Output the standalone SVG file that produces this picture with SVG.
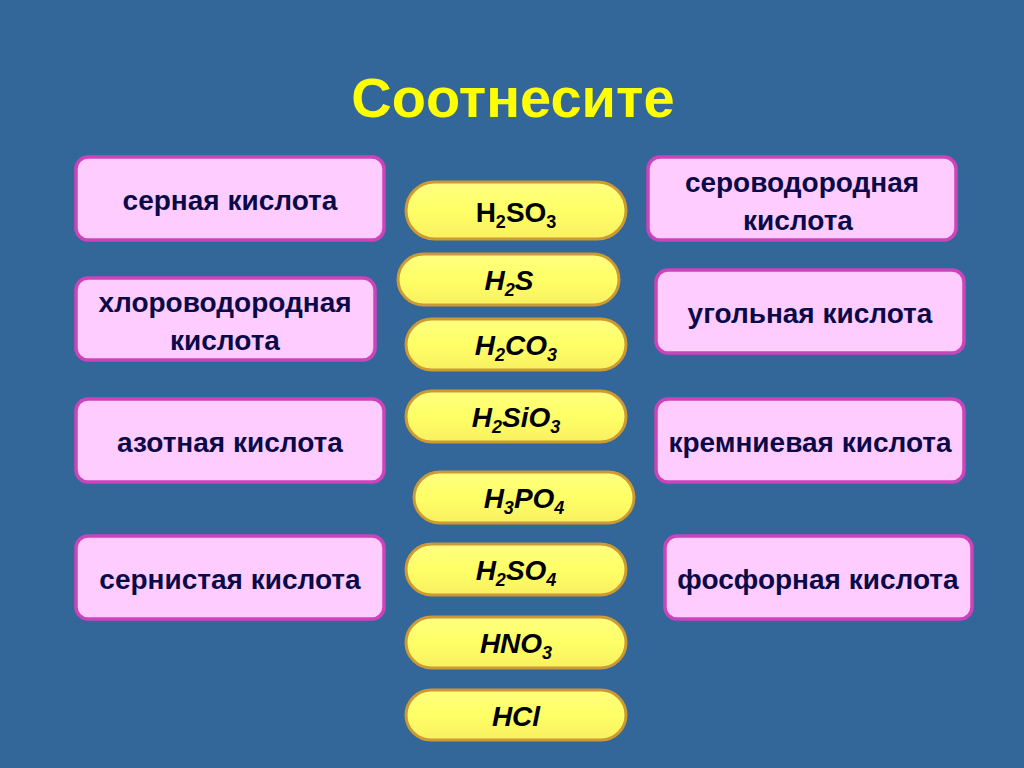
<svg xmlns="http://www.w3.org/2000/svg" width="1024" height="768" viewBox="0 0 1024 768">
<defs>
<style>
.bg{fill:#336699}
.title{font-family:"Liberation Sans",Arial,sans-serif;font-weight:bold;font-size:56px;fill:#ffff00;text-anchor:middle}
.box{fill:#ffccff;stroke:#cc44bb;stroke-width:3.5}
.lbl{font-family:"Liberation Sans",Arial,sans-serif;font-weight:bold;font-size:28px;fill:#0a0a48;text-anchor:middle}
.pill{fill:url(#yg);stroke:#cc9933;stroke-width:3}
.f{font-family:"Liberation Sans",Arial,sans-serif;font-weight:bold;font-size:28px;fill:#000;text-anchor:middle}
.i{font-style:italic}
.s{font-size:18px}
</style>
<linearGradient id="yg" x1="0" y1="0" x2="0" y2="1">
<stop offset="0" stop-color="#ffff80"/>
<stop offset="0.5" stop-color="#ffff66"/>
<stop offset="1" stop-color="#f8f060"/>
</linearGradient>
</defs>
<rect class="bg" x="0" y="0" width="1024" height="768"/>
<text id="title" class="title" x="513" y="117">Соотнесите</text>

<g id="n-sernaya"><rect class="box" x="76" y="157" width="308" height="83" rx="12"/><text class="lbl" x="230" y="210">серная кислота</text></g>
<g id="n-hlorovodorodnaya"><rect class="box" x="76" y="278" width="299" height="82" rx="12"/><text class="lbl" x="225" y="312">хлороводородная</text><text class="lbl" x="225" y="350">кислота</text></g>
<g id="n-azotnaya"><rect class="box" x="76" y="399" width="308" height="83" rx="12"/><text class="lbl" x="230" y="452">азотная кислота</text></g>
<g id="n-sernistaya"><rect class="box" x="76" y="536" width="308" height="83" rx="12"/><text class="lbl" x="230" y="589">сернистая кислота</text></g>

<g id="n-serovodorodnaya"><rect class="box" x="648" y="157" width="308" height="83" rx="12"/><text class="lbl" x="802" y="192">сероводородная</text><text class="lbl" x="798" y="230">кислота</text></g>
<g id="n-ugolnaya"><rect class="box" x="656" y="270" width="308" height="83" rx="12"/><text class="lbl" x="810" y="323">угольная кислота</text></g>
<g id="n-kremnievaya"><rect class="box" x="656" y="399" width="308" height="83" rx="12"/><text class="lbl" x="810" y="452">кремниевая кислота</text></g>
<g id="n-fosfornaya"><rect class="box" x="665" y="536" width="307" height="83" rx="12"/><text class="lbl" x="818" y="589">фосфорная кислота</text></g>

<g id="f-h2so3"><rect class="pill" x="406" y="182" width="220" height="57" rx="28.5"/><text class="f" x="516" y="222">H<tspan class="s" dy="6">2</tspan><tspan dy="-6">SO</tspan><tspan class="s" dy="6">3</tspan></text></g>
<g id="f-h2s"><rect class="pill" x="398" y="254" width="221" height="51" rx="25.5"/><text class="f i" x="509" y="290">H<tspan class="s" dy="6">2</tspan><tspan dy="-6">S</tspan></text></g>
<g id="f-h2co3"><rect class="pill" x="406" y="319" width="220" height="51" rx="25.5"/><text class="f i" x="516" y="355">H<tspan class="s" dy="6">2</tspan><tspan dy="-6">CO</tspan><tspan class="s" dy="6">3</tspan></text></g>
<g id="f-h2sio3"><rect class="pill" x="406" y="391" width="220" height="51" rx="25.5"/><text class="f i" x="516" y="427">H<tspan class="s" dy="6">2</tspan><tspan dy="-6">SiO</tspan><tspan class="s" dy="6">3</tspan></text></g>
<g id="f-h3po4"><rect class="pill" x="414" y="472" width="220" height="51" rx="25.5"/><text class="f i" x="524" y="508">H<tspan class="s" dy="6">3</tspan><tspan dy="-6">PO</tspan><tspan class="s" dy="6">4</tspan></text></g>
<g id="f-h2so4"><rect class="pill" x="406" y="544" width="220" height="51" rx="25.5"/><text class="f i" x="516" y="580">H<tspan class="s" dy="6">2</tspan><tspan dy="-6">SO</tspan><tspan class="s" dy="6">4</tspan></text></g>
<g id="f-hno3"><rect class="pill" x="406" y="617" width="220" height="51" rx="25.5"/><text class="f i" x="516" y="653">HNO<tspan class="s" dy="6">3</tspan></text></g>
<g id="f-hcl"><rect class="pill" x="406" y="690" width="220" height="50" rx="25"/><text class="f i" x="516" y="726">HCl</text></g>

<g id="connectors"/>
</svg>
